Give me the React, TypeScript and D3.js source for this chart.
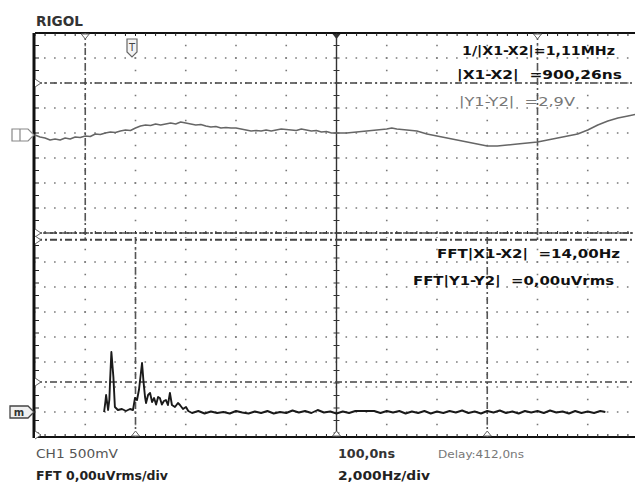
import React from 'react';
import * as d3 from 'd3';

// ---------- data ----------
const traceTimeNs = [0, 10, 20, 30, 40, 50, 60, 70, 80, 90, 100, 110, 120, 130, 140, 150, 160, 170, 180, 190,
  200, 210, 220, 230, 240, 250, 260, 270, 280, 290, 300, 310, 320, 330, 340, 350, 360, 370, 380, 390,
  400, 410, 420, 430, 440, 450, 460, 470, 480, 490, 500, 510, 520, 530, 540, 550, 560, 570, 580, 590,
  600, 620, 640, 660, 680, 700, 710, 720, 740, 760, 780, 800, 820, 840, 860, 880, 900, 920, 940, 960,
  980, 1000, 1020, 1040, 1060, 1080, 1100, 1120, 1140, 1160, 1180, 1200];
const traceVolts = [-0.04, -0.08, -0.10, -0.14, -0.12, -0.14, -0.10, -0.12, -0.08, -0.09, -0.06, -0.07, -0.02, -0.03, 0.00, 0.02, 0.01, 0.04, 0.06, 0.05,
  0.10, 0.14, 0.16, 0.15, 0.18, 0.16, 0.18, 0.20, 0.18, 0.22, 0.20, 0.18, 0.16, 0.17, 0.14, 0.12, 0.13, 0.10, 0.11, 0.10,
  0.10, 0.08, 0.06, 0.04, 0.05, 0.04, 0.06, 0.04, 0.06, 0.08, 0.07, 0.06, 0.05, 0.08, 0.06, 0.04, 0.05, 0.02, 0.03, 0.00,
  0.00, 0.00, 0.02, 0.04, 0.06, 0.08, 0.10, 0.08, 0.06, 0.04, -0.02, -0.06, -0.10, -0.14, -0.18, -0.22, -0.26, -0.26, -0.24, -0.22,
  -0.20, -0.18, -0.14, -0.10, -0.06, -0.02, 0.06, 0.16, 0.24, 0.30, 0.34, 0.38];

const fftFreqHz = [2.75, 2.8, 2.83, 2.88, 2.91, 2.96, 2.99, 3.04, 3.08, 3.12, 3.18, 3.3, 3.46, 3.62, 3.78, 3.9,
  3.98, 4.06, 4.14, 4.22, 4.26, 4.32, 4.38, 4.42, 4.5, 4.58, 4.66, 4.74, 4.82, 4.9, 4.97, 5.05, 5.13, 5.21,
  5.29, 5.37, 5.45, 5.57, 5.69, 5.77, 5.89, 6.01, 6.1,
  6.25, 6.5, 6.75, 7.0, 7.25, 7.5, 7.75, 8.0, 8.25, 8.5, 8.75, 9.0, 9.25, 9.5, 9.75, 10.0, 10.25, 10.5, 10.75,
  11.0, 11.25, 11.5, 11.75, 12.0, 12.25, 12.5, 12.75, 13.0, 13.5, 13.75, 14.0, 14.25, 14.5, 14.75, 15.0, 15.25,
  15.5, 15.75, 16.0, 16.25, 16.5, 16.75, 17.0, 17.25, 17.5, 17.75, 18.0, 18.25, 18.5, 18.75, 19.0, 19.25, 19.5,
  19.75, 20.0, 20.25, 20.5, 20.75, 21.0, 21.25, 21.5, 21.75, 22.0, 22.25, 22.5, 22.7];
const fftLevelDiv = [0, 0.4, 0.68, 0.3, 0.08, 0.5, 1.28, 2.4, 1.9, 1.4, 0.2, 0.08, 0.12, 0.04, 0.12, 0.08,
  0.56, 0.48, 0.9, 1.6, 1.96, 1.2, 0.6, 0.36, 0.68, 0.76, 0.4, 0.56, 0.3, 0.6, 0.56, 0.3, 0.44, 0.48,
  0.28, 0.76, 0.28, 0.2, 0.36, 0.28, 0.12, 0.2, 0.04,
  -0.04, 0.04, -0.06, 0.02, -0.04, 0.0, -0.06, 0.04, -0.02, -0.06, 0.02, -0.04, 0.04, -0.06, 0.0, -0.04, 0.06, -0.02, 0.04,
  -0.04, 0.08, -0.02, 0.02, -0.06, 0.02, -0.04, 0.04, 0.04, 0.04, -0.04, 0.04, -0.02, 0.04, -0.06, 0.02, -0.04,
  0.04, -0.06, 0.02, -0.04, 0.04, -0.02, 0.06, -0.04, 0.02, -0.06, 0.04, -0.02, 0.06, -0.04, 0.02, -0.06, 0.04,
  -0.02, 0.04, -0.04, 0.06, -0.02, 0.02, -0.06, 0.04, -0.04, 0.02, -0.04, 0.04, 0.0];

const timeCursorsNs = [100, 1000];
const voltCursorsV = [1.0, -2.0];
const freqCursorsHz = [4, 18];
const fftCursorsDiv = [6.9, 1.2];

const upperReadouts = ['1/|X1-X2|=1,11MHz', '|X1-X2|  =900,26ns', '|Y1-Y2|  =2,9V'];
const lowerReadouts = ['FFT|X1-X2|  =14,00Hz', 'FFT|Y1-Y2|  =0,00uVrms'];
const statusLabels = ['CH1 500mV', 'FFT 0,00uVrms/div', '100,0ns', 'Delay:412,0ns', '2,000Hz/div'];

// ---------- layout ----------
const W = 635, H = 482;
const GX0 = 35, GX1 = 638;
const UP_T = 33, UP_B = 233, LO_T = 237, LO_B = 437;

const xTime = d3.scaleLinear().domain([0, 1200]).range([GX0, GX1]);
const xFreq = d3.scaleLinear().domain([0, 24]).range([GX0, GX1]);
const yVolt = d3.scaleLinear().domain([-2, 2]).range([UP_B, UP_T]);
const yFft = d3.scaleLinear().domain([-1, 7]).range([LO_B, LO_T]);

const FONT = '"DejaVu Sans", Verdana, sans-serif';
const COND = '"DejaVu Sans Condensed", "Liberation Sans Narrow", "DejaVu Sans", sans-serif';

export default function App() {
  const divX = d3.range(0, 13).map(i => GX0 + i * (GX1 - GX0) / 12);
  const rowsUp = d3.range(1, 8).map(i => UP_T + i * 25);
  const rowsLo = d3.range(1, 8).map(i => LO_T + i * 25);

  const traceLine = d3.line<number>()
    .x((_, i) => xTime(traceTimeNs[i]))
    .y(v => yVolt(v));
  const fftLine = d3.line<number>()
    .x((_, i) => xFreq(fftFreqHz[i]))
    .y(v => yFft(v));

  const ticksH = (y: number, dir: number, x0 = GX0, x1 = 635) =>
    d3.range(x0, x1, (GX1 - GX0) / 60).map((x, i) => (
      <line key={i} x1={x} x2={x} y1={y} y2={y + dir * 3} stroke="#222" strokeWidth={1} />
    ));

  const dashDot = '7 3 2 3';
  const gridColor = '#7a7a7a';
  const ch0 = yVolt(-0.04);

  return (
    <svg width={W} height={H} viewBox={`0 0 ${W} ${H}`}
      style={{ position: 'fixed', left: 0, top: 0, background: '#fff' }}>
      <rect x={0} y={0} width={W} height={H} fill="#fff" />

      {/* Title */}
      <text x={36} y={26} fontFamily={FONT} fontWeight="bold" fontSize={14} fill="#333"
        textLength={47} lengthAdjust="spacingAndGlyphs">RIGOL</text>

      {/* grid dotted rows */}
      {[...rowsUp, ...rowsLo].map((y, i) => (
        <line key={'r' + i} x1={GX0} x2={635} y1={y} y2={y} stroke={gridColor}
          strokeWidth={1.6} strokeDasharray="1.6 8.45" strokeDashoffset={-9} />
      ))}
      {/* grid dotted columns */}
      {divX.slice(1, 12).filter((_, i) => i !== 5).map((x, i) => (
        <g key={'c' + i}>
          <line x1={x} x2={x} y1={UP_T} y2={UP_B} stroke={gridColor} strokeWidth={1.6}
            strokeDasharray="1.6 10.9" strokeDashoffset={-11.7} />
          <line x1={x} x2={x} y1={LO_T} y2={LO_B} stroke={gridColor} strokeWidth={1.6}
            strokeDasharray="1.6 10.9" strokeDashoffset={-11.7} />
        </g>
      ))}

      {/* center vertical axis */}
      <line x1={divX[6]} x2={divX[6]} y1={UP_T} y2={LO_B} stroke="#333" strokeWidth={1.4} />
      {d3.range(UP_T, LO_B, 12.5).map((y, i) => (
        <line key={'ct' + i} x1={divX[6] - 3} x2={divX[6] + 3} y1={y} y2={y} stroke="#333" strokeWidth={1} />
      ))}

      {/* borders */}
      <line x1={GX0} x2={635} y1={UP_T} y2={UP_T} stroke="#111" strokeWidth={2} />
      {ticksH(UP_T, 1)}
      <line x1={GX0} x2={635} y1={LO_B} y2={LO_B} stroke="#111" strokeWidth={2} />
      {ticksH(LO_B, -1)}
      <line x1={GX0} x2={635} y1={UP_B} y2={UP_B} stroke="#555" strokeWidth={1.4} strokeDasharray="6 2 2 2" />
      {ticksH(UP_B - 2, 1)}
      <line x1={GX0} x2={635} y1={LO_T + 3} y2={LO_T + 3} stroke="#555" strokeWidth={1.6} strokeDasharray={dashDot} />
      <line x1={34} x2={34} y1={UP_T} y2={LO_B + 1} stroke="#111" strokeWidth={3} />
      {d3.range(UP_T, LO_B, 12.5).map((y, i) => (
        <line key={'lt' + i} x1={35} x2={39} y1={y} y2={y} stroke="#222" strokeWidth={1} />
      ))}

      {/* cursors - upper */}
      {timeCursorsNs.map((t, i) => (
        <line key={'tc' + i} x1={xTime(t)} x2={xTime(t)} y1={UP_T} y2={UP_B + 7}
          stroke="#555" strokeWidth={1.6} strokeDasharray={dashDot} />
      ))}
      {voltCursorsV.map((v, i) => (
        <line key={'vc' + i} x1={GX0} x2={635} y1={yVolt(v)} y2={yVolt(v)}
          stroke="#444" strokeWidth={1.5} strokeDasharray={dashDot} />
      ))}
      {/* cursors - lower */}
      {freqCursorsHz.map((f, i) => (
        <line key={'fc' + i} x1={xFreq(f)} x2={xFreq(f)} y1={LO_T} y2={LO_B}
          stroke="#555" strokeWidth={1.6} strokeDasharray={dashDot} />
      ))}
      {fftCursorsDiv.map((v, i) => (
        <line key={'lc' + i} x1={GX0} x2={635} y1={yFft(v)} y2={yFft(v)}
          stroke="#444" strokeWidth={1.5} strokeDasharray={dashDot} />
      ))}

      {/* cursor markers on top border */}
      {timeCursorsNs.map((t, i) => (
        <path key={'tm' + i} d={`M${xTime(t) - 4},${UP_T + 1} L${xTime(t) + 4},${UP_T + 1} L${xTime(t)},${UP_T + 6} Z`}
          fill="#fff" stroke="#666" strokeWidth={1} />
      ))}
      <path d={`M${divX[6] - 4},${UP_T + 1} L${divX[6] + 4},${UP_T + 1} L${divX[6]},${UP_T + 6} Z`} fill="#333" />
      {[xFreq(freqCursorsHz[0]), divX[6], xFreq(freqCursorsHz[1])].map((x, i) => (
        <path key={'bm' + i} d={`M${x - 4},${LO_B - 1} L${x + 4},${LO_B - 1} L${x},${LO_B - 6} Z`}
          fill="#fff" stroke="#666" strokeWidth={1} />
      ))}

      {/* left border arrows */}
      {[yVolt(voltCursorsV[0]), UP_B, LO_T + 3, yFft(fftCursorsDiv[1]), LO_B - 2].map((y, i) => (
        <path key={'la' + i} d={`M35,${y - 4} L41,${y} L35,${y + 4}`} fill="#fff" stroke="#666" strokeWidth={1} />
      ))}

      {/* trigger marker */}
      <path d="M127,39 L137,39 L137,52 L132,57 L127,52 Z" fill="#f4f4f4" stroke="#666" strokeWidth={1.2} />
      <text x={132} y={51} textAnchor="middle" fontFamily={FONT} fontSize={10} fill="#444">T</text>

      {/* traces */}
      <path d={traceLine(traceVolts) || ''} fill="none" stroke="#666" strokeWidth={1.5} strokeLinejoin="round" />
      <path d={fftLine(fftLevelDiv) || ''} fill="none" stroke="#1a1a1a" strokeWidth={1.9} strokeLinejoin="round" />

      {/* channel markers */}
      <path d={`M12,${ch0 - 6} L28,${ch0 - 6} L34,${ch0} L28,${ch0 + 6} L12,${ch0 + 6} Z`}
        fill="#fff" stroke="#888" strokeWidth={1.2} />
      <line x1={20} x2={20} y1={ch0 - 6} y2={ch0 + 6} stroke="#888" strokeWidth={1.2} />
      <path d={`M10,${yFft(0) - 6} L28,${yFft(0) - 6} L34,${yFft(0)} L28,${yFft(0) + 6} L10,${yFft(0) + 6} Z`}
        fill="#f0f0f0" stroke="#444" strokeWidth={1.3} />
      <text x={19} y={yFft(0) + 3.5} textAnchor="middle" fontFamily={FONT} fontWeight="bold" fontSize={10} fill="#333">m</text>

      {/* readouts */}
      <text x={462} y={55} fontFamily={FONT} fontWeight="bold" fontSize={13} fill="#111"
        textLength={153} lengthAdjust="spacingAndGlyphs" xmlSpace="preserve">{upperReadouts[0]}</text>
      <text x={457} y={79} fontFamily={FONT} fontWeight="bold" fontSize={13} fill="#111"
        textLength={165} lengthAdjust="spacingAndGlyphs" xmlSpace="preserve">{upperReadouts[1]}</text>
      <text x={459} y={106} fontFamily={FONT} fontSize={13} fill="#777"
        textLength={116} lengthAdjust="spacingAndGlyphs" xmlSpace="preserve">{upperReadouts[2]}</text>
      <text x={437} y={258} fontFamily={FONT} fontWeight="bold" fontSize={13} fill="#111"
        textLength={183} lengthAdjust="spacingAndGlyphs" xmlSpace="preserve">{lowerReadouts[0]}</text>
      <text x={413} y={285} fontFamily={FONT} fontWeight="bold" fontSize={13} fill="#111"
        textLength={201} lengthAdjust="spacingAndGlyphs" xmlSpace="preserve">{lowerReadouts[1]}</text>

      {/* status */}
      <text x={36} y={458} fontFamily={FONT} fontSize={12.5} fill="#555"
        textLength={82} lengthAdjust="spacingAndGlyphs">{statusLabels[0]}</text>
      <text x={36} y={480} fontFamily={FONT} fontWeight="bold" fontSize={12.5} fill="#222"
        textLength={132} lengthAdjust="spacingAndGlyphs">{statusLabels[1]}</text>
      <text x={338} y={458} fontFamily={FONT} fontWeight="bold" fontSize={12.5} fill="#333"
        textLength={57} lengthAdjust="spacingAndGlyphs">{statusLabels[2]}</text>
      <text x={438} y={458} fontFamily={COND} fontSize={11} fill="#777"
        textLength={86} lengthAdjust="spacingAndGlyphs">{statusLabels[3]}</text>
      <text x={338} y={480} fontFamily={FONT} fontWeight="bold" fontSize={12.5} fill="#222"
        textLength={92} lengthAdjust="spacingAndGlyphs">{statusLabels[4]}</text>
    </svg>
  );
}
